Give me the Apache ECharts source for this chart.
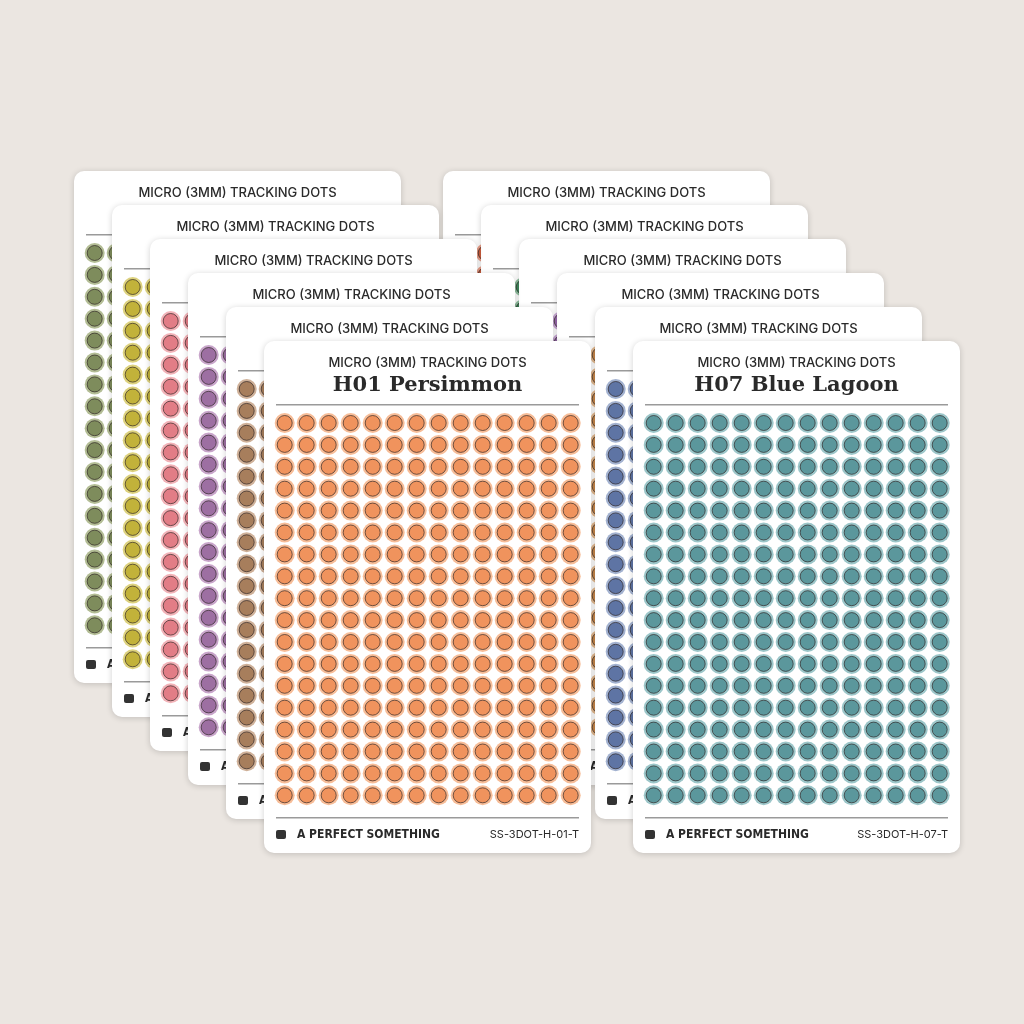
<!DOCTYPE html>
<html><head><meta charset="utf-8">
<script src="https://cdn.jsdelivr.net/npm/echarts@6/dist/echarts.min.js"></script>
<style>html,body{margin:0;background:#ebe6e1}#c{width:1024px;height:1024px}</style>
</head><body><div id="c"></div>
<script>
// sheet colours, back to front
const leftColors = ['#7e8c5c', '#c2b23a', '#e27d86', '#9d6fa2', '#a77e5c', '#f0935d'];
const leftRings = ['#b3bd95', '#ddd27f', '#f2b3b8', '#c8a5ca', '#cfb199', '#f7bd98'];
const rightColors = ['#d2603e', '#3f8a5e', '#9a6aad', '#c8874a', '#5e74a4', '#5b979c'];
const rightRings = ['#eba08a', '#8fbf9f', '#c9a8d5', '#e3b98f', '#a3b2d0', '#9cc6c9'];
const frontNames = ['H01 Persimmon', 'H07 Blue Lagoon'];
const frontCodes = ['SS-3DOT-H-01-T', 'SS-3DOT-H-07-T'];
const nCols = 14, nRows = 18;

const cardW = 327, cardH = 512, stepX = 38, stepY = 34;
const stacks = [{x: 74, y: 171, colors: leftColors, rings: leftRings, side: 0},
                {x: 443, y: 171, colors: rightColors, rings: rightRings, side: 1}];

const dots = [];
for (let c = 0; c < nCols; c++) for (let r = 0; r < nRows; r++) dots.push([c, r]);

const grids = [], xAxes = [], yAxes = [], series = [], graphics = [];
for (let d = 0; d < 6; d++) {
  for (const st of [stacks[1], stacks[0]]) {
    const L = 2 * d + (st.side === 0 ? 1 : 0);
    const x = st.x + d * stepX, y = st.y + d * stepY;
    const zb = L * 4 + 1;
    graphics.push({type: 'rect', z: zb, shape: {x: x, y: y, width: cardW, height: cardH, r: 10},
      style: {fill: '#fff', shadowBlur: 6, shadowColor: 'rgba(0,0,0,0.18)', shadowOffsetY: 1}});
    graphics.push({type: 'text', z: zb, x: x + cardW / 2, y: y + 22,
      style: {text: 'MICRO (3MM) TRACKING DOTS', font: '500 13px Inter', fill: '#2a2a2a', align: 'center', verticalAlign: 'middle'}});
    graphics.push({type: 'rect', z: zb, shape: {x: x + 12, y: y + 63, width: 303, height: 1.5}, style: {fill: '#9a9a9a'}});
    graphics.push({type: 'rect', z: zb, shape: {x: x + 12, y: y + 476, width: 303, height: 1.5}, style: {fill: '#9a9a9a'}});
    graphics.push({type: 'rect', z: zb, shape: {x: x + 12, y: y + 489, width: 10, height: 9, r: 2}, style: {fill: '#333'}});
    graphics.push({type: 'text', z: zb, x: x + 33, y: y + 494,
      style: {text: 'A PERFECT SOMETHING', font: 'bold 12px "DejaVu Sans Condensed"', fill: '#2a2a2a', verticalAlign: 'middle'}});
    if (d === 5) {
      graphics.push({type: 'text', z: zb, x: x + cardW / 2, y: y + 45,
        style: {text: frontNames[st.side], font: 'bold 21px "DejaVu Serif"', fill: '#2a2a2a', align: 'center', verticalAlign: 'middle'}});
      graphics.push({type: 'text', z: zb, x: x + 315, y: y + 494,
        style: {text: frontCodes[st.side], font: '11px Inter', fill: '#2a2a2a', align: 'right', verticalAlign: 'middle'}});
    }
    const gi = grids.length;
    grids.push({left: x + 20.7, top: y + 82, width: 22 * (nCols - 1), height: 21.9 * (nRows - 1)});
    xAxes.push({gridIndex: gi, type: 'value', min: 0, max: nCols - 1, show: false});
    yAxes.push({gridIndex: gi, type: 'value', min: 0, max: nRows - 1, inverse: true, show: false});
    series.push({type: 'scatter', xAxisIndex: gi, yAxisIndex: gi, z: zb + 1, data: dots, symbolSize: 20,
      silent: true, itemStyle: {color: st.rings[d], opacity: 1}});
    series.push({type: 'scatter', xAxisIndex: gi, yAxisIndex: gi, z: zb + 2, data: dots, symbolSize: 15,
      silent: true, itemStyle: {color: st.colors[d], borderColor: 'rgba(40,30,30,0.65)', borderWidth: 1, opacity: 1}});
  }
}

const chart = echarts.init(document.getElementById('c'));
chart.setOption({
  backgroundColor: '#ebe6e1',
  animation: false,
  grid: grids, xAxis: xAxes, yAxis: yAxes,
  series: series,
  graphic: graphics
});
</script></body></html>
